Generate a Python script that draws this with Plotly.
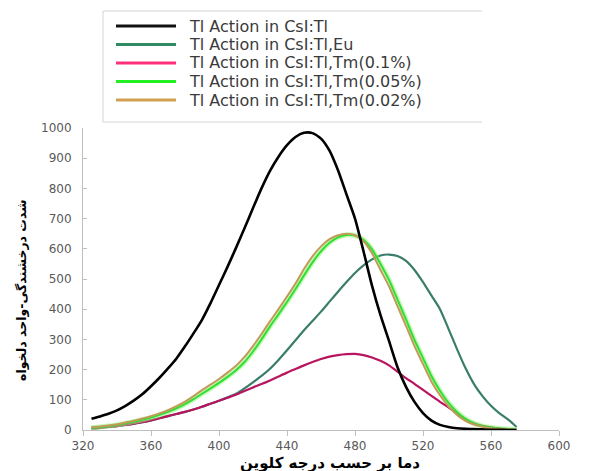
import plotly.graph_objects as go

# Temperature grid (K) shared by all glow curves
temperature = [325 + 5 * i for i in range(51)]  # 325 ... 575

# Thermoluminescence intensity (arb. units) for each sample
csi_tl = [37, 45, 54, 65, 80, 98, 119, 145, 173, 204,
          237, 277, 320, 365, 420, 480, 540, 603, 668, 735,
          800, 858, 905, 943, 970, 984, 983, 965, 925, 860,
          780, 700, 592, 478, 380, 295, 208, 143, 93, 56,
          31, 17, 10, 6, 4, 3, 2, 1, 1, 0, 0]
csi_tl_eu = [5, 7, 10, 13, 17, 21, 26, 32, 39, 46,
             53, 60, 68, 77, 87, 97, 108, 120, 138, 158,
             179, 203, 232, 264, 297, 330, 361, 392, 425, 458,
             490, 520, 545, 565, 578, 581, 576, 560, 530, 490,
             445, 400, 335, 268, 205, 152, 112, 80, 55, 35, 10]
csi_tl_tm_01 = [5, 7, 10, 13, 17, 21, 26, 32, 39, 46,
                53, 60, 68, 77, 87, 97, 107, 117, 129, 141,
                152, 164, 177, 190, 202, 214, 225, 235, 243, 248,
                251, 252, 248, 240, 229, 214, 193, 172, 153, 133,
                113, 93, 75, 55, 36, 22, 14, 9, 5, 3, 1]
csi_tl_tm_005 = [8, 10, 13, 17, 22, 28, 34, 41, 50, 60,
                 72, 86, 102, 120, 138, 156, 176, 198, 225, 260,
                 300, 343, 383, 424, 467, 512, 555, 592, 620, 638,
                 646, 644, 630, 598, 550, 497, 432, 366, 298, 238,
                 178, 130, 90, 60, 37, 22, 13, 8, 5, 3, 1]
csi_tl_tm_002 = [10, 12, 15, 19, 25, 31, 38, 46, 55, 66,
                 79, 94, 112, 132, 150, 169, 190, 213, 242, 278,
                 318, 360, 400, 442, 485, 533, 575, 608, 632, 645,
                 650, 645, 625, 585, 530, 476, 410, 345, 278, 218,
                 160, 115, 78, 50, 30, 18, 11, 6, 4, 2, 1]

series_names = [
    "Tl Action in CsI:Tl",
    "Tl Action in CsI:Tl,Eu",
    "Tl Action in CsI:Tl,Tm(0.1%)",
    "Tl Action in CsI:Tl,Tm(0.05%)",
    "Tl Action in CsI:Tl,Tm(0.02%)",
]
series_values = [csi_tl, csi_tl_eu, csi_tl_tm_01, csi_tl_tm_005, csi_tl_tm_002]
line_colors = ["#000000", "#3a7d6b", "#b8145f", "#33dd33", "#c39a58"]
legend_colors = ["#111111", "#2e8b62", "#ff2f7d", "#22f022", "#d0a050"]
line_widths = [2.6, 2.2, 2.2, 2.0, 2.0]

x_ticks = [320, 360, 400, 440, 480, 520, 560, 600]
y_ticks = [0, 100, 200, 300, 400, 500, 600, 700, 800, 900, 1000]

x_title = "دما بر حسب درجه کلوین"
y_title = "شدت درخشندگی-واحد دلخواه"

W, H = 595, 471
L, R, T, B = 83, 36, 128, 41
PW, PH = W - L - R, H - T - B


def px(x):
    return (x - L) / PW


def py(y):
    return (H - B - y) / PH


fig = go.Figure()

# draw order: Eu, Tm 0.1%, Tm 0.05% (with halo), Tm 0.02%, CsI:Tl on top
for idx in [1, 2, 3, 4, 0]:
    if idx == 3:
        fig.add_trace(go.Scatter(
            x=temperature, y=series_values[idx], mode="lines",
            line=dict(color="rgba(140,245,120,0.55)", width=5, shape="spline", smoothing=0.6),
            hoverinfo="skip", showlegend=False))
    fig.add_trace(go.Scatter(
        x=temperature, y=series_values[idx], mode="lines", name=series_names[idx],
        line=dict(color=line_colors[idx], width=line_widths[idx], shape="spline", smoothing=0.6),
        showlegend=False))

shapes = []
annotations = []

# legend frame: left, top and bottom edges
frame = dict(type="line", xref="paper", yref="paper", line=dict(color="#d4d4d4", width=1))
shapes.append(dict(frame, x0=px(103), x1=px(103), y0=py(11), y1=py(122)))
shapes.append(dict(frame, x0=px(103), x1=px(482), y0=py(11), y1=py(11)))
shapes.append(dict(frame, x0=px(103), x1=px(482), y0=py(122), y1=py(122)))

row_y = [26, 44.5, 63, 81.5, 100]
for name, color, ry in zip(series_names, legend_colors, row_y):
    shapes.append(dict(type="line", xref="paper", yref="paper",
                       x0=px(116), x1=px(176), y0=py(ry), y1=py(ry),
                       line=dict(color=color, width=3)))
    annotations.append(dict(xref="paper", yref="paper", x=px(187), y=py(ry),
                            text=name, showarrow=False, xanchor="left", yanchor="middle",
                            font=dict(family="DejaVu Sans", size=16, color="#3a3a3a")))

annotations.append(dict(xref="paper", yref="paper", x=px(330), y=py(463),
                        text=f"<b>{x_title}</b>", showarrow=False,
                        xanchor="center", yanchor="middle",
                        font=dict(family="DejaVu Sans", size=15, color="#000000")))
annotations.append(dict(xref="paper", yref="paper", x=px(21), y=py(291),
                        text=f"<b>{y_title}</b>", showarrow=False, textangle=-90,
                        xanchor="center", yanchor="middle",
                        font=dict(family="DejaVu Sans", size=12.5, color="#000000")))

axis_font = dict(family="DejaVu Sans", size=12, color="#595959")

fig.update_layout(
    width=W, height=H,
    margin=dict(l=L, r=R, t=T, b=B),
    paper_bgcolor="white", plot_bgcolor="white",
    showlegend=False,
    shapes=shapes, annotations=annotations,
    xaxis=dict(range=[320, 600], tickvals=x_ticks, ticktext=[str(v) for v in x_ticks],
               showgrid=False, zeroline=False, showline=True, linecolor="#bfbfbf", linewidth=1,
               ticks="outside", ticklen=5, tickcolor="#bfbfbf", tickfont=axis_font),
    yaxis=dict(range=[0, 1000], tickvals=y_ticks, ticktext=[str(v) for v in y_ticks],
               showgrid=False, zeroline=False, showline=True, linecolor="#bfbfbf", linewidth=1,
               ticks="inside", ticklen=4, tickcolor="#bfbfbf", tickfont=axis_font,
               ticklabelstandoff=8),
)

fig.write_html("out.html")
